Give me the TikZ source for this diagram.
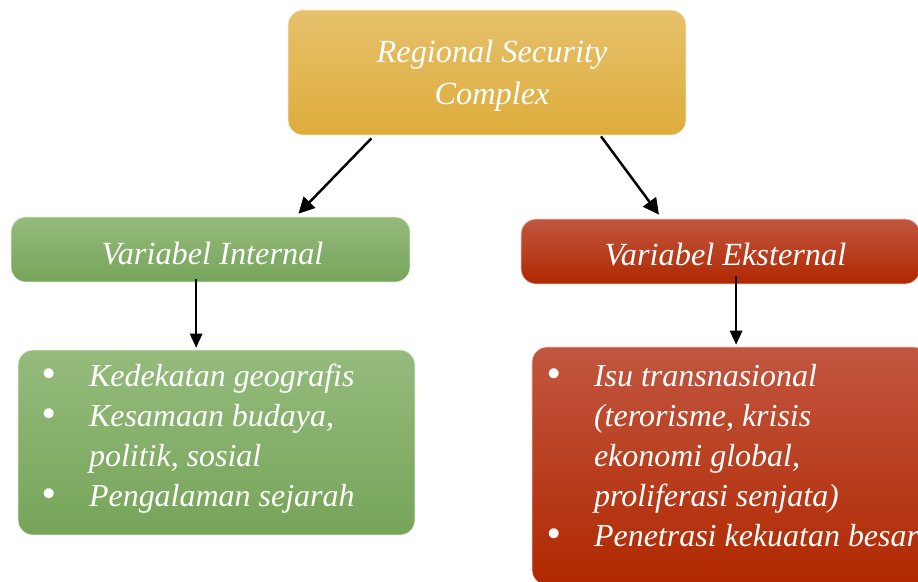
\documentclass[tikz,border=0pt]{standalone}
\usepackage{fontspec}
\setmainfont{Liberation Serif}
\usetikzlibrary{arrows.meta,calc}

\definecolor{goldtop}{HTML}{E6C16C}
\definecolor{goldbot}{HTML}{DDAC3B}
\definecolor{greentop}{HTML}{95BB7D}
\definecolor{greenbot}{HTML}{76A459}
\definecolor{redtop}{HTML}{C25640}
\definecolor{redbot}{HTML}{B02800}

\newcommand{\itm}{\makebox[0.96cm][l]{\raisebox{-0.04em}{\scalebox{1.3}{\textbullet}}}}
\newcommand{\nitm}{\hspace*{0.96cm}}

\begin{document}
\begin{tikzpicture}[x=0.02cm, y=-0.02cm,
    box/.style ={rounded corners=0.3cm, draw=white!70!#1top, line width=0.4pt,
                 top color=#1top, bottom color=#1bot},
    title/.style ={text=white, align=center,
                 font=\fontsize{18.4}{23.8}\selectfont\itshape},
    itemtext/.style ={text=white, inner sep=0pt, anchor=north west, align=left,
                 font=\fontsize{18.2}{22.8}\selectfont\itshape},
    bigarrow/.style ={-{Triangle[length=0.32cm,width=0.32cm]}, line width=1.4pt},
    smallarrow/.style ={-{Triangle[length=0.28cm,width=0.25cm]}, line width=0.8pt}]
   \useasboundingbox (0,0) rectangle (918,581);
   \clip (0,0) rectangle (918,581);
   % boxes
   \node[box=gold, minimum width=7.96cm, minimum height=2.5cm] (rsc) at (487,72.5) {};
   \node[box=green, minimum width=7.98cm, minimum height=1.3cm] (vi) at (210.5,249.5) {};
   \node[box=red, minimum width=7.98cm, minimum height=1.3cm] (ve) at (720.5,251.5) {};
   \node[box=green, minimum width=7.94cm, minimum height=3.7cm] (il) at (216.5,442.5) {};
   \node[box=red, minimum width=7.94cm, minimum height=4.76cm] (el) at (730.5,466) {};
   % titles
   \node[title] (rsct) at ([shift={(5,3)}]rsc.center) {Regional Security\\Complex};
   \node[title] (vit) at ([shift={(2,4)}]vi.center) {Variabel Internal};
   \node[title] (vet) at ([shift={(5,3)}]ve.center) {Variabel Eksternal};
   % lists
   \node[itemtext] (ilt) at ([shift={(23,14)}]il.north west)
        {\itm Kedekatan geografis\\
         \itm Kesamaan budaya,\\
         \nitm politik, sosial\\
         \itm Pengalaman sejarah};
   \node[itemtext] (elt) at ([shift={(14,17)}]el.north west)
        {\itm Isu transnasional\\
         \nitm (terorisme, krisis\\
         \nitm ekonomi global,\\
         \nitm proliferasi senjata)\\
         \itm Penetrasi kekuatan besar};
   % connectors
   \draw[bigarrow] ($(rsc.south west)!0.21!(rsc.south east)+(0,3)$)
        to ($(vi.north west)!0.72!(vi.north east)+(0,-3)$);
   \draw[bigarrow] ($(rsc.south west)!0.786!(rsc.south east)+(0,1)$)
        to ($(ve.north west)!0.346!(ve.north east)+(0,-4)$);
   \coordinate (vis) at ($(vi.south west)!0.464!(vi.south east)+(0,-3)$);
   \coordinate (ves) at ($(ve.south west)!0.539!(ve.south east)+(0,-8)$);
   \draw[smallarrow] (vis) to ([yshift=0.04cm]vis |- il.north);
   \draw[smallarrow] (ves) to ([yshift=0.04cm]ves |- el.north);
 \end{tikzpicture}
\end{document}
